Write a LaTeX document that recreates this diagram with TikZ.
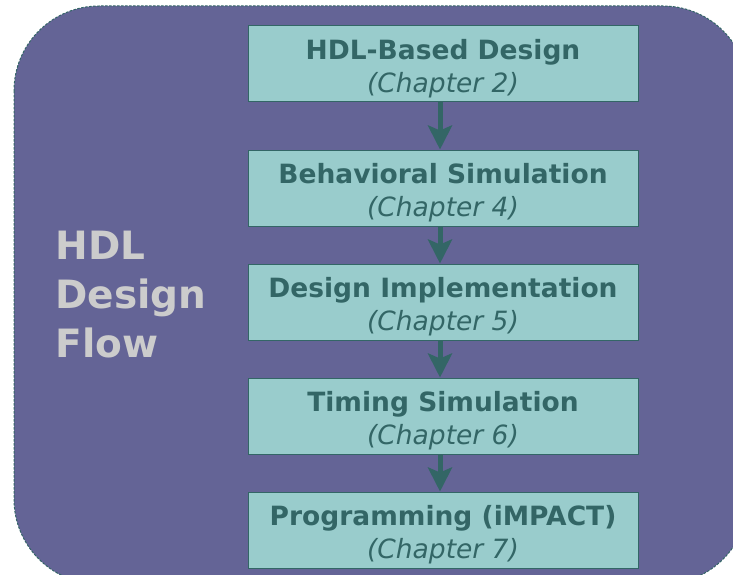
\documentclass[tikz,border=0pt]{standalone}
\usepackage{fontspec}
\setmainfont{DejaVu Sans}
\usetikzlibrary{arrows.meta}
\definecolor{flowbg}{HTML}{646496}
\definecolor{boxfill}{HTML}{99CCCC}
\definecolor{boxtext}{HTML}{336666}
\definecolor{flowgray}{HTML}{CCCCCC}
\begin{document}
\begin{tikzpicture}[x=1pt, y=-1pt,
    stage/.style={draw=boxtext, fill=boxfill, line width=1pt, minimum width=390pt,
                  minimum height=76pt, inner sep=0pt, align=center, text=boxtext,
                  font=\fontsize{26.5}{33}\selectfont},
    flowarrow/.style={-{Stealth[width=24pt, length=24pt, inset=5pt]}, draw=boxtext, line width=5pt}]
    \useasboundingbox (0,0) rectangle (733,575);
    \clip (0,0) rectangle (733,575);
    % background panel
    \draw[fill=flowbg, draw=boxtext, dash pattern=on 2.5pt off 1.5pt, line width=1pt,
          rounded corners=85pt] (14,6) rectangle (748,584);
    \node[text=flowgray, font=\bfseries\fontsize{39}{49}\selectfont, align=left, anchor=west]
      (flowlabel) at (52,295) {HDL\\Design\\Flow};
    % stages
    \foreach \i/\ypos/\title/\chap in {1/64/HDL-Based Design/2, 2/188/Behavioral Simulation/4,
                                       3/302/Design Implementation/5, 4/416/Timing Simulation/6,
                                       5/530/Programming (iMPACT)/7}
      \node[stage] (s\i) at (443,\ypos) {\rule{0pt}{29pt}\textbf{\title}\\\textit{(Chapter \chap)}};
    \foreach \i [evaluate=\i as \j using int(\i+1)] in {1,...,4}
      \draw[flowarrow] (s\i.south -| 440,0) -- (s\j.north -| 440,0);
\end{tikzpicture}
\end{document}
